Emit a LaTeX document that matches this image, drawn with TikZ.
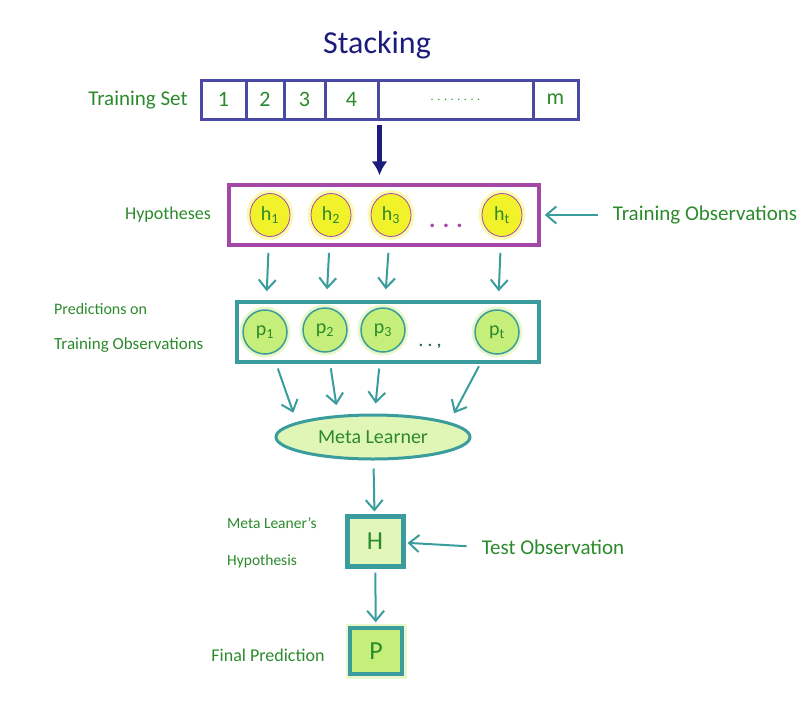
\documentclass[tikz,border=0pt]{standalone}
\usepackage{fontspec}
\setmainfont{Carlito}
\usetikzlibrary{positioning,shapes.geometric,arrows.meta}
\definecolor{navy}{HTML}{1C1C7A}
\definecolor{setblue}{HTML}{4A4AA6}
\definecolor{hypurple}{HTML}{A348A6}
\definecolor{tealline}{HTML}{3A9C9C}
\definecolor{txtgreen}{HTML}{2B8A2B}
\definecolor{hypyellow}{HTML}{F2F22A}
\definecolor{predgreen}{HTML}{C6EE7A}
\newcommand{\fsz}[1]{\fontsize{#1}{#1}\selectfont}

\begin{document}
\begin{tikzpicture}[x=1pt,y=-1pt]
\tikzstyle{cell}=[rectangle, minimum height=39pt, draw=setblue, line width=3pt, inner sep=0pt, text=txtgreen, font=\fsz{22}]
\tikzstyle{hyp}=[ellipse, minimum width=40pt, minimum height=43pt, draw=hypurple, thick, fill=hypyellow, text=txtgreen, font=\fsz{20}, inner sep=0pt, preaction={draw=hypyellow!35, line width=7pt}]
\tikzstyle{pred}=[circle, minimum size=44pt, draw=tealline, line width=1.5pt, fill=predgreen, text=txtgreen, font=\fsz{20}, inner sep=0pt, preaction={draw=predgreen!40, line width=7pt}]
\tikzstyle{group}=[rectangle, line width=3.5pt]
\tikzstyle{lbl}=[text=txtgreen, font=\fsz{18}, inner sep=1pt]
\tikzstyle{connect}=[-{Straight Barb[length=10pt,width=17pt]}, line width=2pt, draw=tealline]
\useasboundingbox (0,0) rectangle (808,702);
	\node[text=navy, font=\fsz{32}] (title) at (377,45) {Stacking};
	\node[lbl, font=\fsz{21}] (tslabel) at (138,100) {Training Set};
	\node[cell, minimum width=45pt] (c_1) at (223.5,99.5) {1};
	\node[cell, minimum width=38pt] (c_2) at (265,99.5) {2};
	\node[cell, minimum width=41pt] (c_3) at (304.5,99.5) {3};
	\node[cell, minimum width=53pt] (c_4) at (351.5,99.5) {4};
	\node[cell, minimum width=155pt, font=\fsz{12}] (c_5) at (455.5,99.5) {. . . . . . . .};
	\node[cell, minimum width=45pt] (c_m) at (555.5,99.5) {m};

	\node[group, draw=hypurple, minimum width=310pt, minimum height=60pt] (hbox) at (384,215) {};
	\node[lbl] (hlabel) at (168,215) {Hypotheses};
	\node[hyp] (h_1) at (270,215) {h\textsubscript{1}};
	\node[hyp] (h_2) at (331,215) {h\textsubscript{2}};
	\node[hyp] (h_3) at (391,215) {h\textsubscript{3}};
	\node[text=hypurple, font=\fsz{24}\bfseries] (hdots) at (446,226) {. . .};
	\node[hyp] (h_t) at (502,215) {h\textsubscript{t}};
	\node[lbl, font=\fsz{21}] (trobs) at (705,215) {Training Observations};

	\node[group, draw=tealline, minimum width=302pt, minimum height=60pt] (pbox) at (388,332) {};
	\node[lbl, anchor=west, font=\fsz{16}] (plabel) at (53,309) {Predictions on};
	\node[lbl, anchor=west, font=\fsz{17}] (plabel2) at (53,345) {Training Observations};
	\node[pred] (p_1) at (265,332) {p\textsubscript{1}};
	\node[pred] (p_2) at (325,330) {p\textsubscript{2}};
	\node[pred] (p_3) at (383,330) {p\textsubscript{3}};
	\node[text=tealline!60!black, font=\fsz{16}\bfseries] (pdots) at (430,346) {. . ,};
	\node[pred] (p_t) at (497,332) {p\textsubscript{t}};

	\node[ellipse, draw=tealline, line width=3pt, fill=predgreen!55, minimum width=194pt, minimum height=44pt, text=txtgreen, font=\fsz{20}] (meta) at (373,437) {Meta Learner};

	\node[rectangle, draw=tealline, line width=5pt, fill=predgreen!50, minimum width=56pt, minimum height=50pt, text=txtgreen, font=\fsz{26}] (H) at (375,541) {H};
	\node[lbl, anchor=west, font=\fsz{15.5}] (mlabel) at (226,523) {Meta Leaner's};
	\node[lbl, anchor=west, font=\fsz{15.5}] (mlabel2) at (226,561) {Hypothesis};
	\node[lbl, font=\fsz{21}] (testobs) at (553,547) {Test Observation};

	\node[rectangle, draw=tealline, line width=3.5pt, fill=predgreen, minimum width=52pt, minimum height=46pt, text=txtgreen, font=\fsz{26}, preaction={draw=predgreen!40, line width=9pt}] (P) at (376,651) {P};
	\node[lbl] (flabel) at (268,655) {Final Prediction};

	\path
		(c_4.south east) edge [-{Latex[length=14pt,width=16pt]}, line width=5pt, draw=navy, shorten <=4pt, shorten >=8pt] (c_4.south east |- hbox.north)
		(trobs.west) edge [connect, shorten <=14pt, shorten >=4pt] (hbox.east)
		(h_1) edge [connect, shorten <=16pt, shorten >=18pt] (p_1)
		(h_2) edge [connect, shorten <=16pt, shorten >=18pt] (p_2)
		(h_3) edge [connect, shorten <=16pt, shorten >=18pt] (p_3)
		(h_t) edge [connect, shorten <=16pt, shorten >=18pt] (p_t)
		(p_1) edge [connect, shorten <=16pt, shorten >=10pt] (meta.169)
		(p_2) edge [connect, shorten <=16pt, shorten >=10pt] (meta.148)
		(p_3) edge [connect, shorten <=16pt, shorten >=10pt] (meta.86)
		(p_t) edge [connect, shorten <=16pt, shorten >=10pt] (meta.11)
		(meta) edge [connect, shorten <=8pt, shorten >=2pt] (H)
		(testobs.west) edge [connect, shorten <=14pt, shorten >=2pt] (H)
		(H) edge [connect, shorten <=4pt, shorten >=4pt] (P);

\end{tikzpicture}
\end{document}
